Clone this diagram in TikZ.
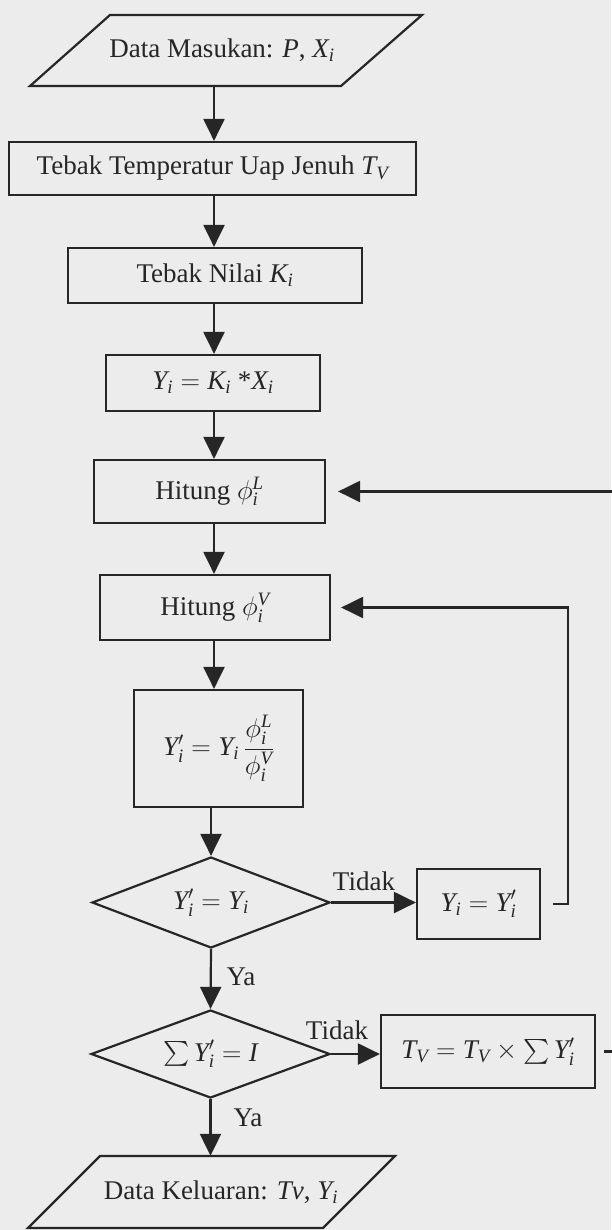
\RequirePackage{fix-cm}
\documentclass[tikz,border=0pt]{standalone}
\usepackage{amsmath}
\usepackage{fontspec}
\setmainfont{Liberation Serif}
\usetikzlibrary{arrows.meta,shapes.geometric}
\definecolor{ink}{HTML}{262626}
\definecolor{paper}{HTML}{ECECEC}
\newcommand\mv[1]{\textit{#1}}
\begin{document}
\begin{tikzpicture}[x=1pt,y=-1pt,
  every node/.style={font=\fontsize{27}{32}\selectfont, text=ink, inner sep=0pt},
  boxnode/.style={rectangle, draw=ink, line width=2.2pt},
  iotext/.style={rectangle, draw=none},
  diam/.style={diamond, shape aspect=2.6, draw=ink, line width=2.2pt, minimum width=238pt, minimum height=91pt},
  outline/.style={draw=ink, line width=2.2pt, line join=miter},
  arr/.style={draw=ink, line width=2.2pt, -{Triangle[length=22pt,width=21pt]}},
  lab/.style={}
]
\fill[paper] (0,0) rectangle (611,1230);
\useasboundingbox (0,0) rectangle (611,1230);
\coordinate (sp) at (214,0);
\coordinate (loopA) at (568,0);
\coordinate (loopB) at (640,0);

% input parallelogram
\draw[outline] (110,15) -- (422,15) -- (341,86) -- (30,86) -- cycle;
\node[iotext, minimum height=71pt, minimum width=200pt] (in) at (222,50.5) {Data Masukan: $\mv{P}$, $\mv{X}_{\mv{i}}$};

\node[boxnode, minimum width=407pt, minimum height=53pt] (b1) at (212.5,168.5) {Tebak Temperatur Uap Jenuh $\mv{T}_{\mv{V}}$};
\node[boxnode, minimum width=294pt, minimum height=55pt] (b2) at (215,275.5) {Tebak Nilai $\mv{K}_{\mv{i}}$};
\node[boxnode, minimum width=214pt, minimum height=56pt] (b3) at (213,383) {$\mv{Y}_{\mv{i}} = \mv{K}_{\mv{i}}$ *$\mv{X}_{\mv{i}}$};
\node[boxnode, minimum width=231pt, minimum height=63pt] (b4) at (209.5,491.5) {Hitung $\phi_{\mv{i}}^{\mv{L}}$};
\node[boxnode, minimum width=230pt, minimum height=65pt] (b5) at (215,607.5) {Hitung $\phi_{\mv{i}}^{\mv{V}}$};
\node[boxnode, minimum width=169pt, minimum height=117pt] (b6) at (218.5,748.5) {$\mv{Y}^{\prime}_{\mv{i}} = \mv{Y}_{\mv{i}}\,\dfrac{\phi_{\mv{i}}^{\mv{L}}}{\phi_{\mv{i}}^{\mv{V}}}$};
\node[diam] (d1) at (211,902.5) {$\mv{Y}^{\prime}_{\mv{i}} = \mv{Y}_{\mv{i}}$};
\node[boxnode, minimum width=123pt, minimum height=70pt] (yy) at (478.5,904) {$\mv{Y}_{\mv{i}} = \mv{Y}^{\prime}_{\mv{i}}$};
\node[diam, minimum height=88pt, minimum width=239pt] (d2) at (210.5,1054) {$\sum \mv{Y}^{\prime}_{\mv{i}} = \mv{I}$};
\node[boxnode, minimum width=214pt, minimum height=73pt] (tv) at (488,1051.5) {$\mv{T}_{\mv{V}} = \mv{T}_{\mv{V}} \times \sum \mv{Y}^{\prime}_{\mv{i}}$};

% output parallelogram
\draw[outline] (100,1156) -- (395,1156) -- (323,1228) -- (28,1228) -- cycle;
\node[iotext, minimum height=72pt, minimum width=200pt] (out) at (221,1192) {Data Keluaran: \textit{Tv}, $\mv{Y}_{\mv{i}}$};

% labels
\node[lab] (t1) at (364,881) {Tidak};
\node[lab] (t2) at (337,1030) {Tidak};
\node[lab] (y1) at (241,977) {Ya};
\node[lab] (y2) at (248,1118) {Ya};

% spine arrows
\draw[arr] (in.south -| sp) -- (b1.north -| sp);
\draw[arr] (b1.south -| sp) -- (b2.north -| sp);
\draw[arr] (b2.south -| sp) -- (b3.north -| sp);
\draw[arr] (b3.south -| sp) -- (b4.north -| sp);
\draw[arr] (b4.south -| sp) -- (b5.north -| sp);
\draw[arr] (b5.south -| sp) -- (b6.north -| sp);
\draw[arr] (b6.south -| d1.north) -- (d1.north);
\draw[arr] (d1.south) -- (d2.north);
\draw[arr] (d2.south) -- (d2.south |- out.north);

% decision branches
\draw[arr] (d1.east) -- (d1.east -| yy.west);
\draw[arr] (d2.east) -- (d2.east -| tv.west);

% loops
\draw[arr, shorten >=10pt] ([xshift=12pt]yy.east) -- (yy.east -| loopA) |- (b5.east);
\draw[arr, shorten >=12pt] ([xshift=8pt]tv.east) -- (tv.east -| loopB) |- (b4.east);
\end{tikzpicture}
\end{document}
